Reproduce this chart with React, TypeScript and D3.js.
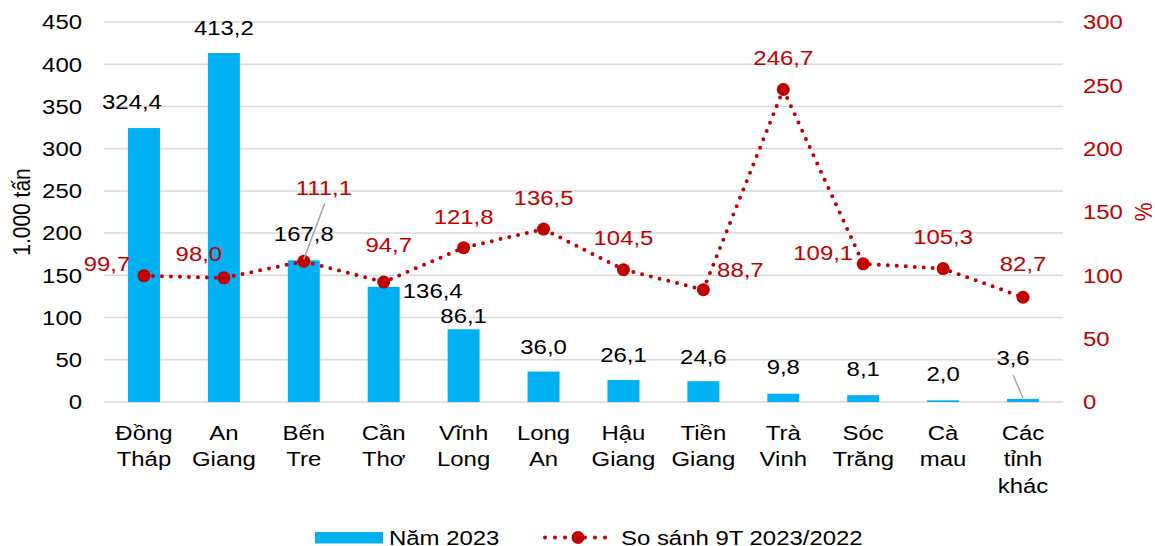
import * as d3 from 'd3'
import type { ReactNode } from 'react'

// ─── Data ─────────────────────────────────────────────────────────────────────

const CATEGORIES = [
  ['Đồng', 'Tháp'],
  ['An', 'Giang'],
  ['Bến', 'Tre'],
  ['Cần', 'Thơ'],
  ['Vĩnh', 'Long'],
  ['Long', 'An'],
  ['Hậu', 'Giang'],
  ['Tiền', 'Giang'],
  ['Trà', 'Vinh'],
  ['Sóc', 'Trăng'],
  ['Cà', 'mau'],
  ['Các', 'tỉnh', 'khác'],
]
const VOLUME_2023 = [324.4, 413.2, 167.8, 136.4, 86.1, 36.0, 26.1, 24.6, 9.8, 8.1, 2.0, 3.6]
const COMPARE_9T = [99.7, 98.0, 111.1, 94.7, 121.8, 136.5, 104.5, 88.7, 246.7, 109.1, 105.3, 82.7]
const LEFT_TICKS = [0, 50, 100, 150, 200, 250, 300, 350, 400, 450]
const RIGHT_TICKS = [0, 50, 100, 150, 200, 250, 300]

// label placement: [dx, dy] of label centre from the mark top, optional leader line
const BAR_LABEL_POS: [number, number, boolean][] = [
  [-12, -26, false], [0, -25, false], [0, -27, false], [49, 4, false],
  [0, -14, false], [0, -25, false], [0, -25, false], [0, -25, false],
  [0, -27, false], [0, -27, false], [0, -27, false], [-10, -41, true],
]
const LINE_LABEL_POS: [number, number, boolean][] = [
  [-37, -12, false], [-25, -24, false], [20, -74, true], [5, -37, false],
  [0, -31, false], [0, -31, false], [0, -32, false], [37, -20, false],
  [0, -32, false], [-40, -11, false], [0, -32, false], [0, -34, false],
]

// ─── Layout ───────────────────────────────────────────────────────────────────

const W = 1155
const H = 546
const PLOT = { left: 104, right: 1063, top: 22, bottom: 402 }
const BAR_COLOR = '#00B0F0'
const LINE_COLOR = '#C00000'
const GRID = '#D9D9D9'
const LEADER = '#A6A6A6'
const FONT = '"Liberation Sans", Arial, sans-serif'
const FS = 21
const SX = 1.14 // the reference text is stretched horizontally

const fmt = (v: number) => d3.format('.1f')(v).replace('.', ',')

function T({ x, y, anchor = 'middle', fill = '#000', rotate, children }: {
  x: number; y: number; anchor?: string; fill?: string; rotate?: number; children: ReactNode
}) {
  return (
    <text
      transform={`translate(${x},${y}) scale(${SX},1)${rotate ? ` rotate(${rotate})` : ''}`}
      textAnchor={anchor} dy="0.35em" fontSize={FS} fill={fill}
    >
      {children}
    </text>
  )
}

export default function App() {
  const x = d3.scaleBand<number>()
    .domain(d3.range(CATEGORIES.length))
    .range([PLOT.left, PLOT.right])
  const yL = d3.scaleLinear().domain([0, 450]).range([PLOT.bottom, PLOT.top])
  const yR = d3.scaleLinear().domain([0, 300]).range([PLOT.bottom, PLOT.top])
  const cx = (i: number) => (x(i) ?? 0) + x.bandwidth() / 2
  const barW = x.bandwidth() * 0.4

  const line = d3.line<number>()
    .x((_, i) => cx(i))
    .y((d) => yR(d))

  return (
    <svg width={W} height={H} style={{ position: 'absolute', left: 0, top: 0 }} fontFamily={FONT}>
      <rect width={W} height={H} fill="#fff" />

      {/* gridlines */}
      {LEFT_TICKS.map((t) => (
        <line key={t} x1={PLOT.left} x2={PLOT.right} y1={yL(t)} y2={yL(t)}
          stroke={GRID} strokeWidth={1.5} />
      ))}

      {/* axes ticks */}
      {LEFT_TICKS.map((t) => (
        <T key={t} x={82} y={yL(t)} anchor="end">{t}</T>
      ))}
      {RIGHT_TICKS.map((t) => (
        <T key={t} x={1083} y={yR(t)} anchor="start" fill={LINE_COLOR}>{t}</T>
      ))}

      <T x={22} y={(PLOT.top + PLOT.bottom) / 2} rotate={-90}>1.000 tấn</T>
      <T x={1144} y={(PLOT.top + PLOT.bottom) / 2} rotate={-90} fill={LINE_COLOR}>%</T>

      {/* bars */}
      {VOLUME_2023.map((v, i) => (
        <rect key={i} x={cx(i) - barW / 2} y={yL(v)} width={barW} height={yL(0) - yL(v)} fill={BAR_COLOR} />
      ))}

      {/* category labels */}
      {CATEGORIES.map((lines, i) => (
        <text key={i} transform={`translate(${cx(i)},440) scale(${SX},1)`} textAnchor="middle"
          fontSize={FS} fill="#000">
          {lines.map((l, j) => (
            <tspan key={j} x={0} dy={j === 0 ? 0 : 26.5}>{l}</tspan>
          ))}
        </text>
      ))}

      {/* dotted line */}
      <path d={line(COMPARE_9T) ?? ''} fill="none" stroke={LINE_COLOR} strokeWidth={4}
        strokeLinecap="round" strokeDasharray="0 9" />
      {COMPARE_9T.map((v, i) => (
        <circle key={i} cx={cx(i)} cy={yR(v)} r={6.5} fill={LINE_COLOR} />
      ))}

      {/* bar labels */}
      {VOLUME_2023.map((v, i) => {
        const [dx, dy, leader] = BAR_LABEL_POS[i]
        const lx = cx(i) + dx
        const ly = yL(v) + dy
        return (
          <g key={i}>
            {leader && (
              <line x1={lx} y1={ly + 17} x2={cx(i)} y2={yL(v) - 1} stroke={LEADER} strokeWidth={1.5} />
            )}
            <T x={lx} y={ly}>{fmt(v)}</T>
          </g>
        )
      })}

      {/* line labels */}
      {COMPARE_9T.map((v, i) => {
        const [dx, dy, leader] = LINE_LABEL_POS[i]
        const lx = cx(i) + dx
        const ly = yR(v) + dy
        return (
          <g key={i}>
            {leader && (
              <line x1={lx + 1} y1={ly + 16} x2={cx(i)} y2={yR(v) - 2} stroke={LEADER} strokeWidth={1.5} />
            )}
            <T x={lx} y={ly} fill={LINE_COLOR}>{fmt(v)}</T>
          </g>
        )
      })}

      {/* legend */}
      <rect x={315} y={532} width={68} height={11.5} fill={BAR_COLOR} />
      <T x={389} y={537.5} anchor="start">Năm 2023</T>
      <line x1={545} x2={608} y1={537.5} y2={537.5} stroke={LINE_COLOR} strokeWidth={4}
        strokeLinecap="round" strokeDasharray="0 10" />
      <circle cx={578} cy={537.5} r={6.5} fill={LINE_COLOR} />
      <T x={621} y={537.5} anchor="start">So sánh 9T 2023/2022</T>
    </svg>
  )
}
